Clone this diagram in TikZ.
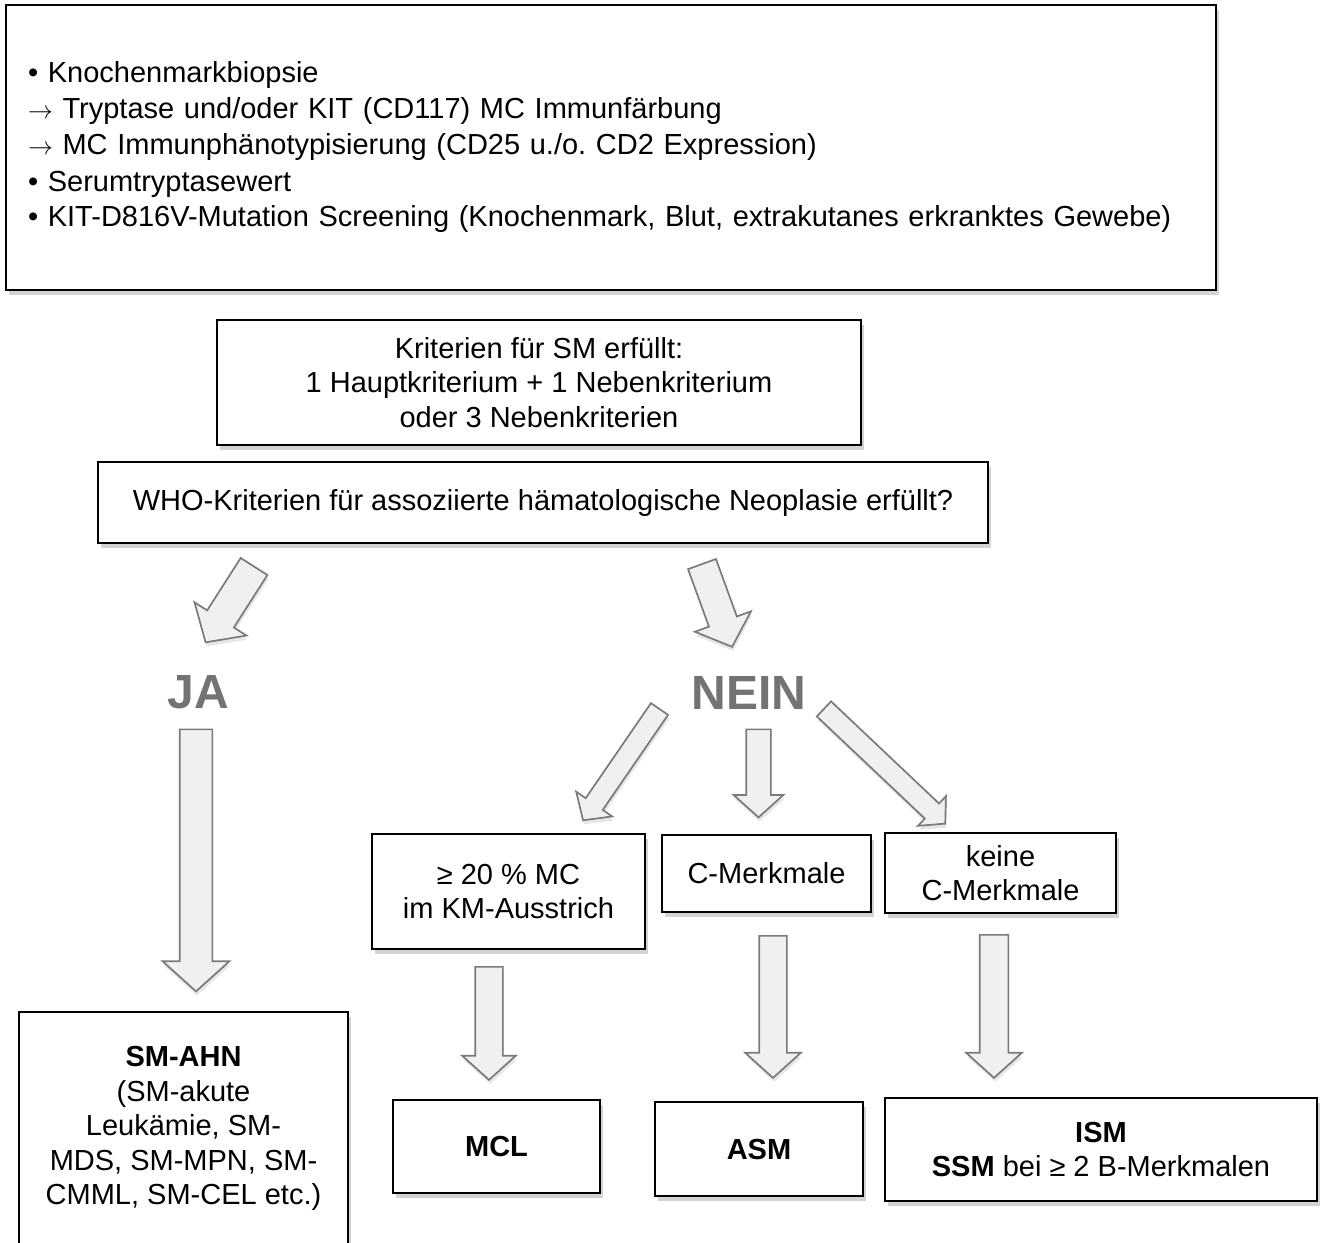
\documentclass[tikz,border=0pt]{standalone}
\usepackage{fontspec}
\setmainfont{Liberation Sans}
\usetikzlibrary{positioning,shapes.arrows,shadows}
\frenchspacing

\tikzset{
  box/.style={draw, line width=2pt, fill=white, align=center, inner sep=0pt,
    font=\fontsize{29}{34.5}\selectfont,
    drop shadow={shadow xshift=3pt,shadow yshift=-5pt,opacity=.35}},
  blockarrow/.style={single arrow, draw=black!52, fill=black!6, line width=1.7pt,
    inner sep=0pt, single arrow tip angle=96, anchor=tail,
    drop shadow={shadow xshift=1pt,shadow yshift=-4pt,opacity=.2}},
  answer/.style={text=black!55, font=\fontsize{48}{48}\bfseries\selectfont}
}

\begin{document}
\begin{tikzpicture}[x=1pt,y=-1pt]
\useasboundingbox (0,0) rectangle (1324,1242);
\clip (0,0) rectangle (1324,1242);
\node[box, minimum width=1210pt, minimum height=285pt, text width=1166pt, align=left,
  font=\fontsize{29}{36}\selectfont] (top) at (611,147.5)
  {• Knochenmarkbiopsie\\
   $\rightarrow$ Tryptase und/oder KIT (CD117) MC Immunfärbung\\
   $\rightarrow$ MC Immunphänotypisierung (CD25 u./o. CD2 Expression)\\
   • Serumtryptasewert\\
   • KIT-D816V-Mutation Screening (Knochenmark, Blut, extrakutanes erkranktes Gewebe)};
\node[box, minimum width=644pt, minimum height=125pt] (krit) at (539,382.5)
  {Kriterien für SM erfüllt:\\1 Hauptkriterium + 1 Nebenkriterium\\oder 3 Nebenkriterien};
\node[box, minimum width=890pt, minimum height=81pt] (who) at (543,502.5)
  {WHO-Kriterien für assoziierte hämatologische Neoplasie erfüllt?};

\node[answer] (ja) at (198,692) {JA};
\node[answer] (nein) at (749,693) {NEIN};

\node[blockarrow, minimum height=90pt, minimum width=60pt, inner ysep=15pt,
  single arrow head extend=15pt, rotate=237.4] (toja) at (254.5,565.8) {};
\node[blockarrow, minimum height=88pt, minimum width=58pt, inner ysep=14pt,
  single arrow head extend=15pt, rotate=-70] (tonein) at (701.7,563.3) {};
\node[blockarrow, minimum height=262pt, minimum width=65pt, inner ysep=15.5pt,
  single arrow head extend=17pt, rotate=-90] (toahn) at (196,728.5) {};
\node[blockarrow, minimum height=135pt, minimum width=42pt, inner ysep=9.5pt,
  single arrow head extend=11.5pt, rotate=235.5] (tomc) at (660,708.3) {};
\node[blockarrow, minimum height=88pt, minimum width=48pt, inner ysep=11.5pt,
  single arrow head extend=12.5pt, rotate=-90] (tocm) at (758.5,728.5) {};
\node[blockarrow, minimum height=167pt, minimum width=39pt, inner ysep=9.5pt,
  single arrow head extend=10pt, rotate=-43.4] (tokcm) at (823.3,708.3) {};

\node[box, minimum width=273pt, minimum height=115pt] (mc) at (508.5,891.5)
  {≥ 20 \% MC\\im KM-Ausstrich};
\node[box, minimum width=209pt, minimum height=77pt] (cm) at (766.5,873.5)
  {C-Merkmale};
\node[box, minimum width=231pt, minimum height=80pt] (kcm) at (1000.5,873)
  {keine\\C-Merkmale};

\node[blockarrow, minimum height=113pt, minimum width=52pt, inner ysep=13pt,
  single arrow head extend=13pt, rotate=-90] (tomcl) at (489,966) {};
\node[blockarrow, minimum height=142pt, minimum width=54pt, inner ysep=13pt,
  single arrow head extend=14pt, rotate=-90] (toasm) at (773,935) {};
\node[blockarrow, minimum height=143pt, minimum width=54pt, inner ysep=13.5pt,
  single arrow head extend=13.5pt, rotate=-90] (toism) at (994,934) {};

\node[box, minimum width=329pt, minimum height=233pt] (ahn) at (183.5,1128.5)
  {\textbf{SM-AHN}\\(SM-akute\\Leukämie, SM-\\MDS, SM-MPN, SM-\\CMML, SM-CEL etc.)};
\node[box, minimum width=207pt, minimum height=93pt] (mcl) at (496.5,1146.5)
  {\textbf{MCL}};
\node[box, minimum width=208pt, minimum height=94pt] (asm) at (759,1149)
  {\textbf{ASM}};
\node[box, minimum width=432pt, minimum height=103pt] (ism) at (1101,1149.5)
  {\textbf{ISM}\\\textbf{SSM} bei ≥ 2 B-Merkmalen};
\end{tikzpicture}
\end{document}
